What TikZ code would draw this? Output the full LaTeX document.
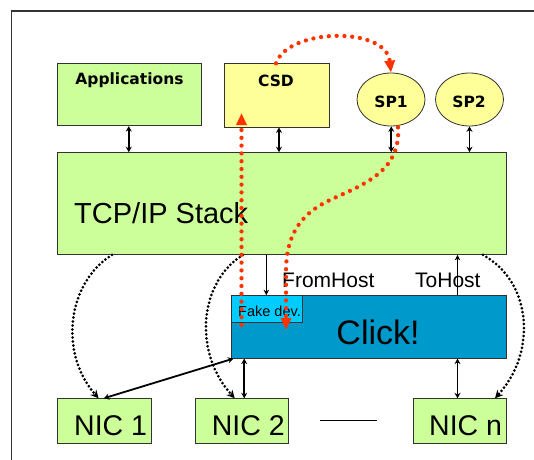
\documentclass[tikz,border=0pt]{standalone}
\usepackage{fontspec}
\setmainfont{Liberation Sans}
\newfontfamily\vfont{DejaVu Sans}
\usetikzlibrary{arrows.meta,shapes.geometric}
\definecolor{cgreen}{HTML}{CCFF99}
\definecolor{cyell}{HTML}{FFFF99}
\definecolor{cblue}{HTML}{0099CC}
\definecolor{clight}{HTML}{00CCFF}
\definecolor{cred}{HTML}{FF3300}
\definecolor{cframe}{HTML}{333333}
\tikzset{
  box/.style={draw=black!80, line width=0.8pt, inner sep=0pt},
  gbox/.style={box, fill=cgreen},
  lbl/.style={font=\vfont\bfseries\fontsize{15.5}{16}\selectfont, inner sep=0pt},
  dbl/.style={{Stealth[length=5.5pt,width=6pt]}-{Stealth[length=5.5pt,width=6pt]}, line width=1.7pt},
  sgl/.style={-{Stealth[length=5.5pt,width=5.5pt]}, line width=1.2pt},
  reddot/.style={draw=cred, line width=4.3pt, line cap=round, dash pattern=on 0pt off 7.8pt, -{Triangle[length=12pt,width=10pt]}},
  blkdot/.style={line width=3pt, line cap=round, dash pattern=on 0pt off 4pt, -{Stealth[length=8pt,width=8pt]}},
  big/.style={inner sep=0pt, font=\fontsize{#1}{#1}\selectfont}
}
\begin{document}
\begin{tikzpicture}[x=1pt,y=-1pt]
\useasboundingbox (0,0) rectangle (534,459);
% frame
\draw[cframe, line width=1.5pt] (11.6,470) -- (11.6,11) -- (545,11);
% top boxes
\node[gbox, minimum width=144pt, minimum height=62.7pt] (app) at (129.25,94.35) {};
\node[lbl, anchor=base] (appt) at (129.5,84) {Applications};
\node[box, fill=cyell, minimum width=105pt, minimum height=63.3pt] (csd) at (276.5,95.35) {};
\node[lbl, anchor=base] (csdt) at (276,86.5) {CSD};
\node[box, ellipse, fill=cyell, minimum width=68pt, minimum height=53pt] (sp1) at (391,99.5) {};
\node[lbl, anchor=base] (sp1t) at (391,107) {SP1};
\node[box, ellipse, fill=cyell, minimum width=68pt, minimum height=53pt] (sp2) at (469.5,99.5) {};
\node[lbl, anchor=base] (sp2t) at (469,107) {SP2};
% TCP/IP
\node[gbox, minimum width=449.6pt, minimum height=101.9pt] (tcp) at (282,203.55) {};
\node[big=29, anchor=base west] (tcpt) at (74,223) {TCP/IP Stack};
% Click
\node[box, fill=cblue, minimum width=274.8pt, minimum height=62.6pt] (click) at (368.7,326.9) {};
\node[box, fill=clight, minimum width=71.1pt, minimum height=26.6pt] (fake) at (266.85,308.9) {};
\node[big=14.5, anchor=base west] (faket) at (238,316.7) {Fake dev.};
\node[big=34, anchor=base] (clickt) at (378,344) {Click!};
\node[big=21, anchor=base west] (fh) at (282,287) {FromHost};
\node[big=21, anchor=base west] (th) at (415,287) {ToHost};
% NICs
\node[gbox, minimum width=93.9pt, minimum height=44.9pt] (nic1) at (104.05,421.15) {};
\node[gbox, minimum width=93.2pt, minimum height=44.9pt] (nic2) at (242.2,421.15) {};
\node[gbox, minimum width=93pt, minimum height=44.9pt] (nicn) at (459.5,421.15) {};
\node[big=28.5, anchor=base west] (nic1t) at (74,435) {NIC 1};
\node[big=28.5, anchor=base west] (nic2t) at (211.6,435) {NIC 2};
\node[big=28.5, anchor=base west] (nicnt) at (429,435) {NIC n};
\coordinate (dl) at (319.7,420.5);
\coordinate (dr) at (376.5,420.5);
\draw[line width=1pt] (dl) -- (dr);
% vertical connectors
\draw[dbl] ([xshift=-0.5pt]app.south) -- ([xshift=-0.5pt]app.south |- tcp.north);
\draw[dbl] ([xshift=2.5pt]csd.south) -- ([xshift=2.5pt]csd.south |- tcp.north);
\draw[dbl] ([xshift=0.3pt]sp1.south) -- ([xshift=0.3pt]sp1.south |- tcp.north);
\draw[dbl] (sp2.south) -- (sp2.south |- tcp.north);
\coordinate (fhx) at (266.3,0);
\coordinate (thx) at (457.5,0);
\coordinate (n2x) at (244.2,0);
\draw[sgl] (fhx |- tcp.south) -- (fhx |- click.north);
\draw[sgl] (thx |- click.north) -- (thx |- tcp.south);
\draw[dbl] (n2x |- click.south) -- (n2x |- nic2.north);
\draw[dbl] (thx |- click.south) -- (thx |- nicn.north);
\draw[dbl, line width=1.8pt] ([xshift=2.5pt]click.south west) -- ([xshift=-0.3pt]nic1.north);
% black dotted curves
\draw[blkdot] ([xshift=-170pt]tcp.south) .. controls (68,282) and (58,352) .. ([xshift=-5.5pt]nic1.north);
\draw[blkdot] ([xshift=-39pt]tcp.south) .. controls (199,282) and (193,352) .. ([xshift=-7.5pt]nic2.north);
\draw[blkdot] ([xshift=201pt]tcp.south) .. controls (532,282) and (537,352) .. ([xshift=35.5pt]nic2.north -| nicn.north);
% red dotted curves
\draw[reddot] ([xshift=-0.5pt]csd.north) .. controls (288,28) and (386,26) .. (sp1.north);
\coordinate (rs) at (241.5,325);
\coordinate (re) at (241.5,113);
\draw[reddot] (rs) -- (re);
\coordinate (r3m) at (330,200);
\coordinate (r3e) at (286,330);
\draw[reddot] ([xshift=7pt,yshift=-1pt]sp1.south) .. controls (401,172) and (362,185) .. (r3m) .. controls (298,215) and (286,238) .. (286,272) -- (r3e);
\end{tikzpicture}
\end{document}
